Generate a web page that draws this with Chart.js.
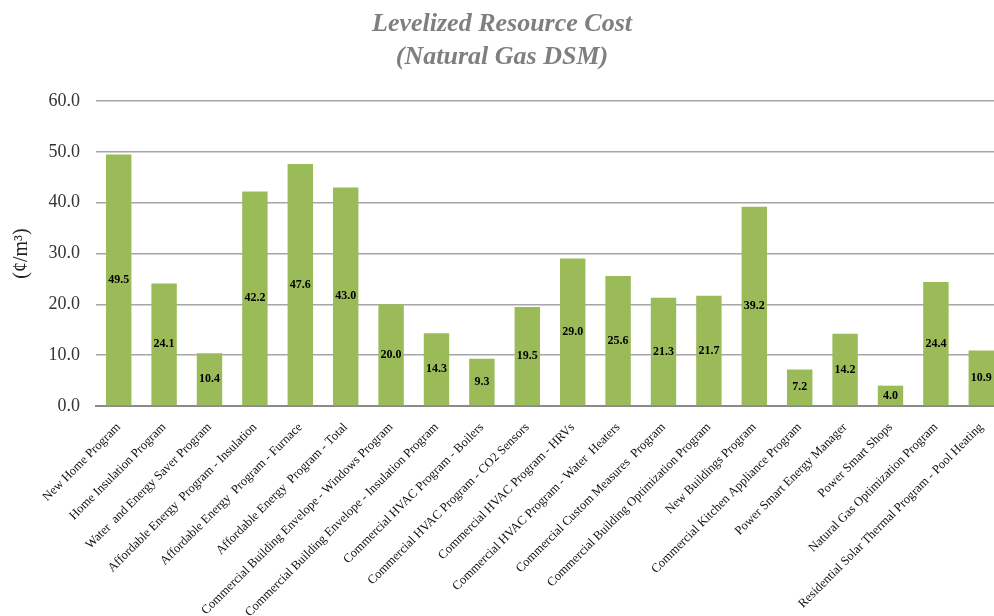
<!DOCTYPE html>
<html>
<head>
<meta charset="utf-8">
<script src="https://cdn.jsdelivr.net/npm/chart.js@4/dist/chart.umd.min.js"></script>
<style>
  html, body { margin: 0; padding: 0; background: #fff; overflow: hidden; }
  #wrap { width: 1010px; height: 616px; position: relative; }
</style>
</head>
<body>
<div id="wrap"><canvas id="costChart" width="1010" height="616"></canvas></div>
<script>
// Levelized cost per program, cents per cubic metre
const programs = [
  'New Home Program',
  'Home Insulation Program',
  'Water  and Energy Saver Program',
  'Affordable Energy  Program - Insulation',
  'Affordable Energy  Program - Furnace',
  'Affordable Energy  Program - Total',
  'Commercial Building Envelope - Windows Program',
  'Commercial Building Envelope - Insulation Program',
  'Commercial HVAC Program - Boilers',
  'Commercial HVAC Program - CO2 Sensors',
  'Commercial HVAC Program - HRVs',
  'Commercial HVAC Program - Water  Heaters',
  'Commercial Custom Measures  Program',
  'Commercial Building Optimization Program',
  'New Buildings Program',
  'Commercial Kitchen Appliance Program',
  'Power Smart Energy Manager',
  'Power Smart Shops',
  'Natural Gas Optimization Program',
  'Residential Solar Thermal Program - Pool Heating'
];
const costs = [49.5, 24.1, 10.4, 42.2, 47.6, 43.0, 20.0, 14.3, 9.3, 19.5,
               29.0, 25.6, 21.3, 21.7, 39.2, 7.2, 14.2, 4.0, 24.4, 10.9];
const yTicks = [0, 10, 20, 30, 40, 50, 60];

const SERIF = '"Liberation Serif", "DejaVu Serif", serif';

// value printed in the middle of each bar
const barValues = {
  id: 'barValues',
  afterDatasetsDraw(chart) {
    const ctx = chart.ctx;
    const meta = chart.getDatasetMeta(0);
    ctx.save();
    ctx.font = 'bold 12px ' + SERIF;
    ctx.fillStyle = '#000';
    ctx.textAlign = 'center';
    ctx.textBaseline = 'middle';
    meta.data.forEach((bar, i) => {
      const y = (bar.y + bar.base) / 2;
      ctx.fillText(costs[i].toFixed(1), bar.x, y);
    });
    ctx.restore();
  }
};

const ctx = document.getElementById('costChart').getContext('2d');
new Chart(ctx, {
  type: 'bar',
  data: {
    labels: programs,
    datasets: [{
      data: costs,
      backgroundColor: '#9bbb59',
      categoryPercentage: 0.56,
      barPercentage: 1.0
    }]
  },
  plugins: [barValues],
  options: {
    responsive: false,
    animation: false,
    devicePixelRatio: 1,
    layout: { padding: { left: 0, right: 6, top: 0, bottom: 0 } },
    plugins: {
      legend: { display: false },
      tooltip: { enabled: false },
      title: {
        display: true,
        text: ['Levelized Resource Cost', '(Natural Gas DSM)'],
        color: '#7f7f7f',
        font: { family: SERIF, size: 26, style: 'italic', weight: 'bold', lineHeight: 1.27 },
        padding: { top: 8, bottom: 27 }
      }
    },
    scales: {
      x: {
        grid: { display: false },
        border: { color: '#8a8a8a', width: 2 },
        ticks: {
          color: '#111',
          font: { family: SERIF, size: 12.6 },
          minRotation: 45,
          maxRotation: 45,
          autoSkip: false,
          padding: 6
        },
        afterFit(scale) { scale.height = 210; }
      },
      y: {
        min: 0,
        max: 60,
        afterBuildTicks(scale) { scale.ticks = yTicks.map(v => ({ value: v })); },
        grid: { color: '#a6a6a6', lineWidth: 1.5, drawTicks: false },
        border: { display: false },
        ticks: {
          color: '#333',
          font: { family: SERIF, size: 18 },
          padding: 16,
          callback: v => Number(v).toFixed(1)
        },
        title: {
          display: true,
          text: '(¢/m³)',
          color: '#222',
          font: { family: SERIF, size: 20 },
          padding: { top: 10, bottom: 0 }
        },
        afterFit(scale) { scale.width = 96; }
      }
    }
  }
});
</script>
</body>
</html>
